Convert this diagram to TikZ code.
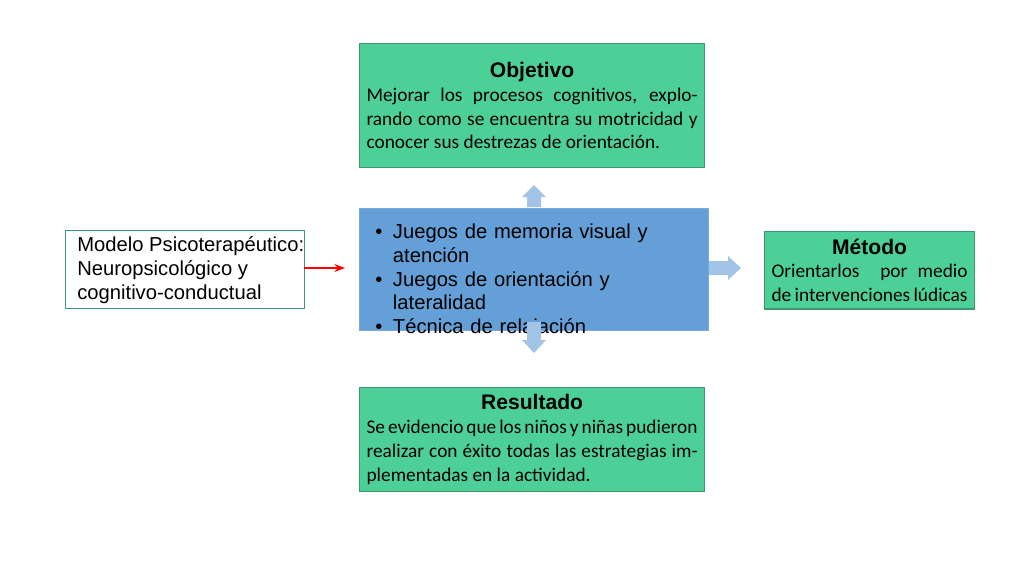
\documentclass[tikz,border=0pt]{standalone}
\usepackage{fontspec}
\setmainfont{Carlito}
\newfontfamily\arialf{Liberation Sans}
\usetikzlibrary{arrows.meta}
\definecolor{gfill}{RGB}{76,208,152}
\definecolor{gline}{RGB}{60,150,110}
\definecolor{bfill}{RGB}{100,160,215}
\definecolor{bline}{RGB}{120,170,220}
\definecolor{afill}{RGB}{160,195,230}
\newcommand{\boxtitle}[1]{{\centering\arialf\bfseries\fontsize{12}{14}\selectfont #1\par}}
\begin{document}
\begin{tikzpicture}[x=0.02cm,y=-0.02cm,
 gbox/.style={draw=gline,fill=gfill,line width=0.6pt,inner sep=4pt,align=justify,font=\fontsize{11}{13.6}\selectfont},
 barrow/.style={fill=afill,draw=none}]
\useasboundingbox (0,0) rectangle (1024,576);
\node[gbox,minimum height=124*0.02cm,text width=331*0.02cm,anchor=north west] (obj) at (359,43)
 {\boxtitle{Objetivo}Mejorar los procesos cognitivos, explorando como se encuentra su motricidad y conocer sus destrezas de orientación.};
\node[gbox,minimum height=101*0.02cm,text width=331*0.02cm,anchor=north west] (res) at (359,387)
 {\boxtitle{Resultado}Se evidencio que los niños y niñas pudieron realizar con éxito todas las estrategias implementadas en la actividad.};
\node[gbox,minimum height=77*0.02cm,text width=196*0.02cm,anchor=north west] (met) at (764,231)
 {\boxtitle{Método}Orientarlos\ \ por medio de intervenciones lúdicas};
\node[draw=bline,fill=bfill,minimum width=349*0.02cm,minimum height=122*0.02cm,anchor=north west] (ctr) at (359,208) {};
\node[anchor=north west,text width=320*0.02cm,font=\arialf\fontsize{11.5}{13.6}\selectfont,inner sep=0pt] at (368,214)
 {\begin{list}{\textbullet}{\leftmargin=14pt\labelwidth=8pt\labelsep=6pt\itemsep=0pt\parsep=0pt\topsep=0pt}
 \item Juegos de memoria visual y atención
 \item Juegos de orientación y lateralidad
 \item Técnica de relajación\end{list}};
\node[draw=gline,fill=white,line width=0.6pt,minimum width=239*0.02cm,minimum height=78*0.02cm,anchor=north west] (mod) at (65,230) {};
\node[anchor=north west,align=left,font=\arialf\fontsize{11.5}{13.6}\selectfont,inner sep=0pt] at (77,236)
 {Modelo Psicoterapéutico:\\Neuropsicológico y\\cognitivo-conductual};
\coordinate (rs) at (304,268);
\coordinate (re) at (345,268);
\draw[red,line width=1.2pt,-{Stealth[length=6pt]}] (rs) -- (re);
\fill[barrow] (527,207) -- (527,197) -- (522,197) -- (534,185) -- (546,197) -- (541,197) -- (541,207) -- cycle;
\fill[barrow] (527,322) -- (527,340) -- (522,340) -- (534,353) -- (546,340) -- (541,340) -- (541,322) -- cycle;
\fill[barrow] (709,261) -- (728,261) -- (728,256) -- (741,268) -- (728,280) -- (728,275) -- (709,275) -- cycle;
\end{tikzpicture}
\end{document}
